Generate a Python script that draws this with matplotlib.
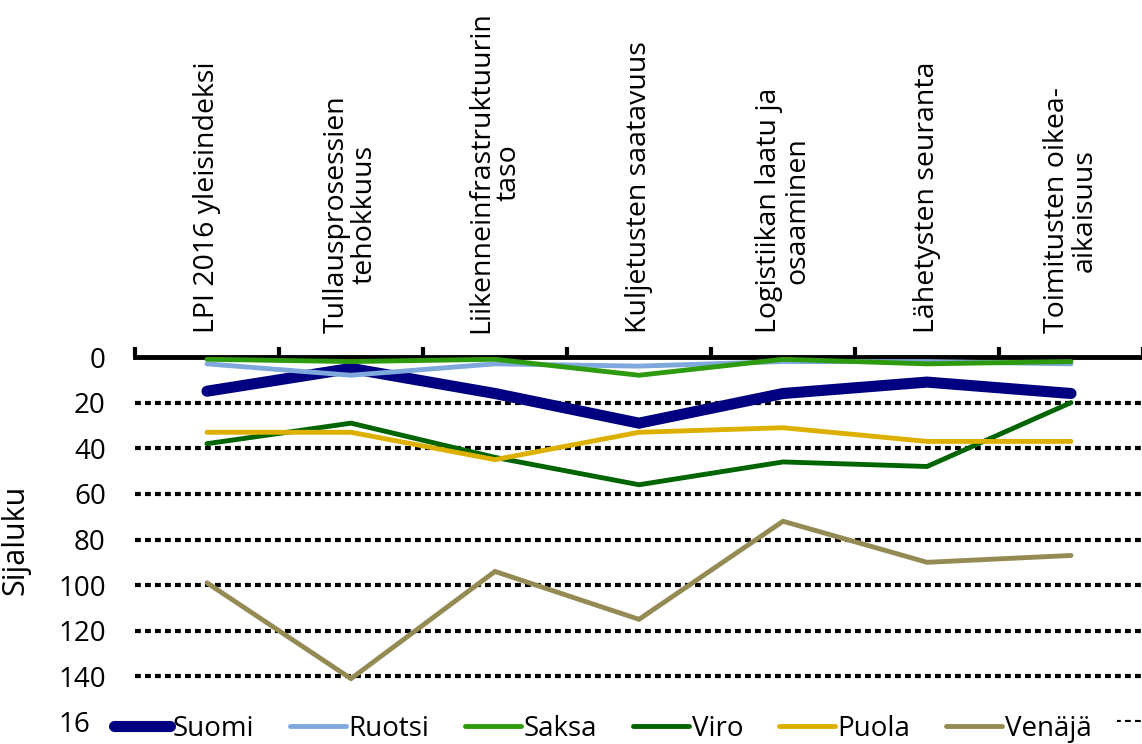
import matplotlib
matplotlib.use("Agg")
import matplotlib.pyplot as plt
import numpy as np

plt.rcParams['font.family'] = ['Open Sans', 'DejaVu Sans']

categories = ["LPI 2016 yleisindeksi",
              "Tullausprosessien\ntehokkuus",
              "Liikenneinfrastruktuurin\ntaso",
              "Kuljetusten saatavuus",
              "Logistiikan laatu ja\nosaaminen",
              "Lähetysten seuranta",
              "Toimitusten oikea-\naikaisuus"]

suomi = [15, 5, 16, 29, 16, 11, 16]
ruotsi = [3, 8, 3, 4, 2, 2, 3]
saksa = [1, 2, 1, 8, 1, 3, 2]
viro = [38, 29, 44, 56, 46, 48, 20]
puola = [33, 33, 45, 33, 31, 37, 37]
venaja = [99, 141, 94, 115, 72, 90, 87]

series_names = ["Suomi", "Ruotsi", "Saksa", "Viro", "Puola", "Venäjä"]
series_vals = [suomi, ruotsi, saksa, viro, puola, venaja]
colors = ["#000080", "#7FA8DC", "#2E9B0E", "#006400", "#DDB000", "#948A54"]
widths = [8, 3.5, 3.5, 3.5, 3.5, 3.5]
yticks = [0, 20, 40, 60, 80, 100, 120, 140, 160]

W, H = 1142, 744
fig = plt.figure(figsize=(W / 100, H / 100), dpi=100)
ax = fig.add_axes([135 / W, 1 - 722 / H, 1008 / W, (722 - 357) / H])

x = np.arange(len(categories))
for name, vals, c, lw in zip(series_names, series_vals, colors, widths):
    ax.plot(x, vals, color=c, lw=lw, label=name, solid_capstyle='round',
            solid_joinstyle='miter', zorder=3)

ax.set_xlim(-0.5, len(categories) - 0.5)
ax.set_ylim(160, 0)
ax.set_yticks(yticks)
ax.set_yticklabels([str(v) for v in yticks], fontsize=20)
ax.tick_params(axis='y', length=0, pad=21)

ax.xaxis.tick_top()
ax.set_xticks(x)
ax.set_xticklabels(categories, rotation=90, fontsize=20.5, ha='center',
                   va='bottom', multialignment='center', linespacing=1.0)
ax.set_xticks(np.arange(-0.5, len(categories), 1.0), minor=True)
ax.tick_params(axis='x', which='major', length=0, pad=17)
ax.tick_params(axis='x', which='minor', length=7, width=3, direction='out',
               color='black')

for s in ['left', 'right', 'bottom']:
    ax.spines[s].set_visible(False)
ax.spines['top'].set_linewidth(3.5)
ax.spines['top'].set_color('black')

ax.yaxis.grid(True, color='black', linewidth=3, linestyle=(0, (1.4, 1.0)))
ax.set_axisbelow(True)

ax.set_ylabel("Sijaluku", fontsize=22)
ax.yaxis.set_label_coords((30 - 135) / 1008, 0.5)

leg = ax.legend(loc='center left', bbox_to_anchor=(-46 / 1008, (722 - 729) / 365),
                ncol=6, frameon=True, fontsize=20, handlelength=2.0,
                handletextpad=0.1, columnspacing=1.3, borderpad=0.9,
                borderaxespad=0.0)
leg.get_frame().set_facecolor('white')
leg.get_frame().set_edgecolor('none')
leg.get_frame().set_alpha(1.0)
leg.set_zorder(10)
for h in leg.get_lines():
    h.set_solid_capstyle('round')

fig.savefig("out.png", dpi=100)
